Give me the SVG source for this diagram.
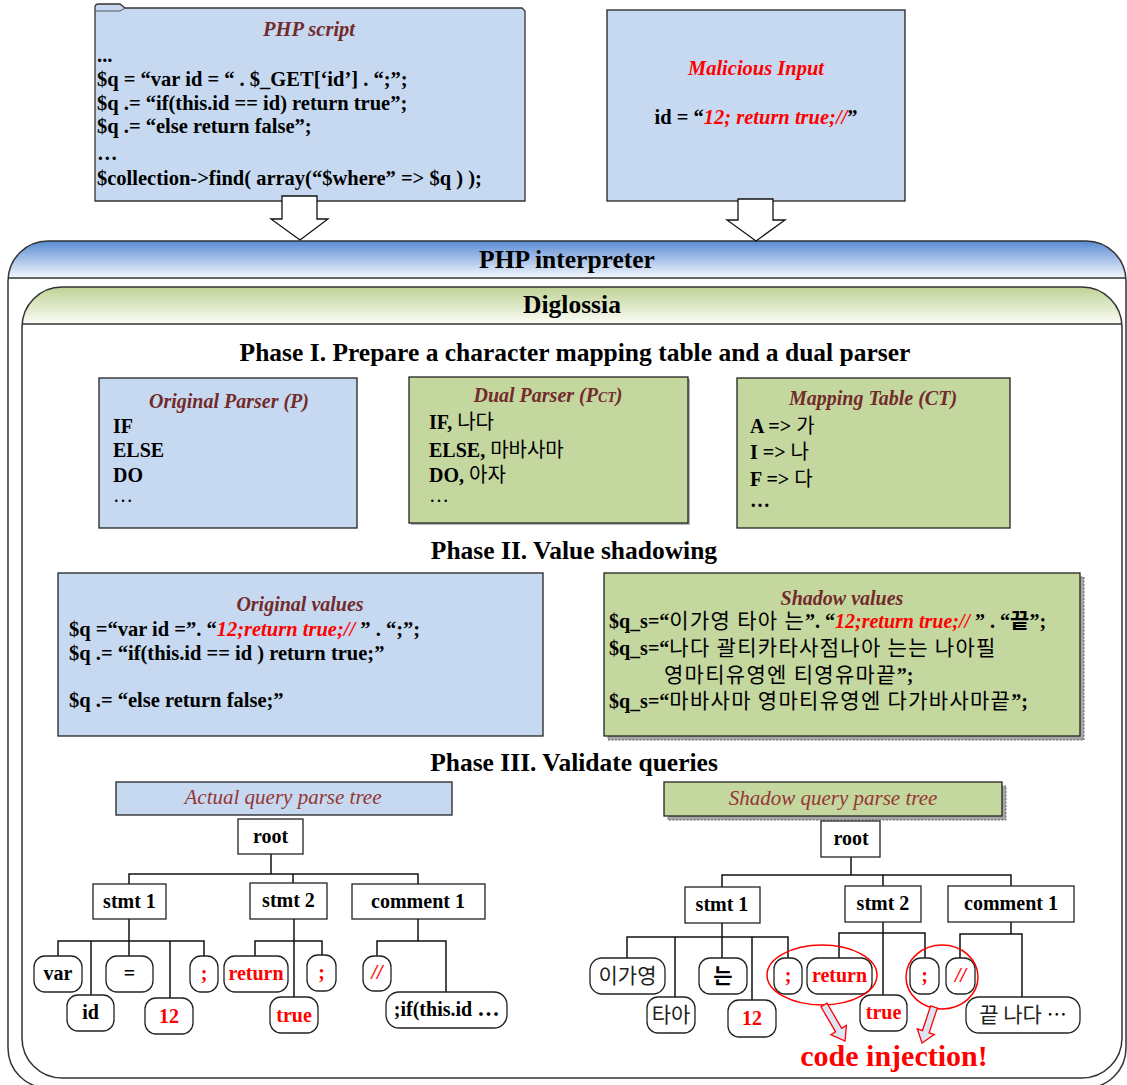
<svg xmlns="http://www.w3.org/2000/svg" width="1127" height="1085" viewBox="0 0 1127 1085">
<defs>
<linearGradient id="gBlue" x1="0" y1="0" x2="0" y2="1"><stop offset="0" stop-color="#5a8bd3"/><stop offset="1" stop-color="#f5f8fd"/></linearGradient>
<linearGradient id="gGreen" x1="0" y1="0" x2="0" y2="1"><stop offset="0" stop-color="#bfd396"/><stop offset="1" stop-color="#fbfcf6"/></linearGradient>
<clipPath id="cOuter"><rect x="8" y="241" width="1118" height="847" rx="40"/></clipPath>
<clipPath id="cInner"><rect x="22" y="287" width="1100" height="791" rx="40"/></clipPath>
</defs>
<style>
text { font-family: "Liberation Serif", "Times New Roman", "Noto Sans CJK KR", serif; font-weight: bold; fill: #000; font-size: 20px; }
.code { font-size: 20.5px; }
.h1 { font-size: 25.5px; }
.ttl { font-style: italic; fill: #722b2b; }
.tree { font-style: italic; font-weight: normal; fill: #943634; font-size: 21px; }
.red { fill: #ff0000; }
.it { font-style: italic; }
.ko { font-family: "Noto Sans CJK KR", sans-serif; font-weight: normal; }
.kw { font-size: 21px; letter-spacing: 1.3px; }
.kt { font-size: 21px; fill: #222; }
.nw { font-weight: normal; }
.mid { text-anchor: middle; }
.blue { fill: #c6d9f0; stroke: #222; stroke-width: 1.3; }
.green { fill: #c4d79f; stroke: #222; stroke-width: 1.3; }
.node { fill: #fff; stroke: #222; stroke-width: 1.3; }
.conn { stroke: #111; stroke-width: 1.5; fill: none; }
.cont { fill: none; stroke: #333; stroke-width: 1.5; }
.sh { fill: #a6a6a6; stroke: #666; stroke-width: 1; stroke-dasharray: 2 1.5; }
.ell { fill: none; stroke: #ff0000; stroke-width: 1.5; }
.harrow { fill: #dce6f2; stroke: #ff0000; stroke-width: 1.3; }
.barrow { fill: #fff; stroke: #111; stroke-width: 1.3; }
.big { font-size: 30px; }
</style>
<rect width="1127" height="1085" fill="#fff"/>

<g id="php-interpreter">
<rect x="8" y="241" width="1118" height="847" rx="40" fill="#fff"/>
<rect x="8" y="241" width="1118" height="37" fill="url(#gBlue)" clip-path="url(#cOuter)"/>
<line x1="8" y1="278" x2="1126" y2="278" stroke="#333" stroke-width="1.5"/>
<rect class="cont" x="8" y="241" width="1118" height="847" rx="40"/>
<text class="h1 mid" x="567" y="268">PHP interpreter</text>
</g>

<g id="diglossia">
<rect x="22" y="287" width="1100" height="791" rx="40" fill="#fff"/>
<rect x="22" y="287" width="1100" height="37" fill="url(#gGreen)" clip-path="url(#cInner)"/>
<line x1="22" y1="324" x2="1122" y2="324" stroke="#333" stroke-width="1.5"/>
<rect class="cont" x="22" y="287" width="1100" height="791" rx="40"/>
<text class="h1 mid" x="572" y="313">Diglossia</text>
</g>

<g id="php-script">
<path d="M95,201 V7 Q95,4 99,4 H120 L125,8 H522 L525,11 V201 Z" fill="#c6d9f0" stroke="#333" stroke-width="1.3"/>
<path d="M95,11 H120 L125,8" fill="none" stroke="#555" stroke-width="1"/>
<text class="code ttl mid" x="309" y="36">PHP script</text>
<text class="code" x="97" y="62">...</text>
<text class="code" x="97" y="86">$q = “var id = “ . $_GET[‘id’] . “;”;</text>
<text class="code" x="97" y="110">$q .= “if(this.id == id) return true”;</text>
<text class="code" x="97" y="133">$q .= “else return false”;</text>
<text class="code" x="97" y="160">…</text>
<text class="code" x="97" y="185">$collection-&gt;find( array(“$where” =&gt; $q ) );</text>
</g>

<g id="malicious-input">
<rect class="blue" x="607" y="10" width="298" height="191" stroke="#333"/>
<text class="code it red mid" x="756" y="75">Malicious Input</text>
<text class="code mid" x="756" y="124">id = “<tspan class="red it">12; return true;//</tspan>”</text>
</g>

<g id="phase-titles">
<text class="h1 mid" x="575" y="361">Phase I. Prepare a character mapping table and a dual parser</text>
<text class="h1 mid" x="574" y="559">Phase II. Value shadowing</text>
<text class="h1 mid" x="574" y="771">Phase III. Validate queries</text>
</g>

<g id="original-parser">
<rect class="blue" x="99" y="378" width="258" height="150"/>
<text class="ttl mid" x="229" y="408">Original Parser (P)</text>
<text x="113" y="433">IF</text>
<text x="113" y="457">ELSE</text>
<text x="113" y="482">DO</text>
<text class="nw" x="113" y="502">…</text>
</g>

<g id="dual-parser">
<rect x="411" y="379" width="279" height="146" fill="#b5b5b5"/>
<rect class="green" x="409" y="377" width="279" height="146" stroke="#555" stroke-width="1.8"/>
<text class="ttl mid" x="548" y="402">Dual Parser (P<tspan style="font-size:14px">CT</tspan>)</text>
<text x="429" y="429">IF, <tspan class="ko">나다</tspan></text>
<text x="429" y="457">ELSE, <tspan class="ko">마바사마</tspan></text>
<text x="429" y="482">DO, <tspan class="ko">아자</tspan></text>
<text class="nw" x="429" y="502">…</text>
</g>

<g id="mapping-table">
<rect class="green" x="737" y="378" width="273" height="150"/>
<text class="ttl mid" x="873" y="405">Mapping Table (CT)</text>
<text x="750" y="433">A =&gt; <tspan class="ko">가</tspan></text>
<text x="750" y="459">I =&gt; <tspan class="ko">나</tspan></text>
<text x="750" y="486">F =&gt; <tspan class="ko">다</tspan></text>
<text x="750" y="507">…</text>
</g>

<g id="original-values">
<rect class="blue" x="58" y="573" width="485" height="163"/>
<text class="ttl mid" x="300" y="611">Original values</text>
<text class="code" x="69" y="636">$q =“var id =”. “<tspan class="red it">12;return true;// </tspan>” . “;”;</text>
<text class="code" x="69" y="660">$q .= “if(this.id == id ) return true;”</text>
<text class="code" x="69" y="707">$q .= “else return false;”</text>
</g>

<g id="shadow-values">
<rect class="sh" x="608" y="577" width="476" height="163"/>
<rect class="green" x="604" y="573" width="476" height="163"/>
<text class="ttl mid" x="842" y="605">Shadow values</text>
<text x="609" y="628">$q_s=“<tspan class="ko kw">이가영 타아 는</tspan>”. “<tspan class="red it">12;return true;// </tspan>” . “<tspan class="ko" style="font-weight:bold;font-size:21px">끝</tspan>”;</text>
<text x="609" y="655">$q_s=“<tspan class="ko kw">나다 괄티카타사점나아 는는 나아필</tspan></text>
<text x="664" y="682"><tspan class="ko kw">영마티유영엔 티영유마끝</tspan>”;</text>
<text x="609" y="708">$q_s=“<tspan class="ko kw">마바사마 영마티유영엔 다가바사마끝</tspan>”;</text>
</g>

<g id="actual-tree-header">
<rect class="blue" x="116" y="782" width="336" height="33"/>
<text class="tree mid" x="283" y="804">Actual query parse tree</text>
</g>

<g id="shadow-tree-header">
<rect class="sh" x="668" y="786" width="338" height="34"/>
<rect class="green" x="664" y="782" width="338" height="34"/>
<text class="tree mid" x="833" y="805">Shadow query parse tree</text>
</g>

<g id="connectors">
<polygon class="barrow" points="282,196 317,196 317,219 328,219 300,240 271,219 282,219"/>
<polygon class="barrow" points="738,199 773,199 773,220 785,220 756,241 727,220 738,220"/>
<path class="conn" d="M271,854 V874" stroke-width="2.2"/>
<path class="conn" d="M129,884 V874 H418 V884 M293,874 V883"/>
<path class="conn" d="M129,919 V941" stroke-width="2"/>
<path class="conn" d="M58,956 V941 H204 V956 M91,941 V995 M129,941 V956 M170,941 V998"/>
<path class="conn" d="M294,919 V997" stroke-width="2"/>
<path class="conn" d="M255,956 V941 H322 V955"/>
<path class="conn" d="M418,919 V941 M377,956 V941 H446 V992"/>
<path class="conn" d="M851,857 V875" stroke-width="2.2"/>
<path class="conn" d="M722,887 V875 H1011 V886 M883,875 V886"/>
<path class="conn" d="M722,923 V937" stroke-width="2"/>
<path class="conn" d="M627,958 V937 H788 V958 M675,937 V997 M722,937 V958 M752,937 V1000"/>
<path class="conn" d="M883,922 V995" stroke-width="1.8"/>
<path class="conn" d="M839,958 V933 H925 V958"/>
<path class="conn" d="M1011,922 V934 M960,958 V934 H1022 V997"/>
</g>

<g id="actual-tree-nodes">
<g id="a-root"><rect class="node" x="238" y="819" width="65" height="35"/><text class="mid" x="270.5" y="843">root</text></g>
<g id="a-stmt1"><rect class="node" x="93" y="884" width="73" height="35"/><text class="mid" x="129.5" y="908">stmt 1</text></g>
<g id="a-stmt2"><rect class="node" x="250" y="883" width="77" height="36"/><text class="mid" x="288.5" y="907">stmt 2</text></g>
<g id="a-comment1"><rect class="node" x="352" y="884" width="133" height="35"/><text class="mid" x="418" y="908">comment 1</text></g>
<g id="a-var"><rect class="node" x="34" y="956" width="48" height="36" rx="11"/><text class="mid" x="58" y="980">var</text></g>
<g id="a-id"><rect class="node" x="67" y="995" width="47" height="36" rx="11"/><text class="mid" x="90.5" y="1019">id</text></g>
<g id="a-eq"><rect class="node" x="106" y="956" width="47" height="36" rx="11"/><text class="mid" x="129.5" y="980">=</text></g>
<g id="a-12"><rect class="node" x="145" y="998" width="48" height="36" rx="11"/><text class="mid red" x="169" y="1023">12</text></g>
<g id="a-semi1"><rect class="node" x="190" y="956" width="28" height="36" rx="11"/><text class="mid red" x="204" y="980">;</text></g>
<g id="a-return"><rect class="node" x="224" y="956" width="64" height="36" rx="11"/><text class="mid red" x="256" y="980">return</text></g>
<g id="a-true"><rect class="node" x="270" y="997" width="48" height="36" rx="11"/><text class="mid red" x="294" y="1022">true</text></g>
<g id="a-semi2"><rect class="node" x="307" y="955" width="29" height="36" rx="11"/><text class="mid red" x="321.5" y="979">;</text></g>
<g id="a-comment"><rect class="node" x="363" y="956" width="28" height="35" rx="11"/><text class="mid red it" x="377" y="979">//</text></g>
<g id="a-rest"><rect class="node" x="386" y="992" width="121" height="36" rx="13"/><text class="mid" x="446.5" y="1016">;if(this.id ⋯</text></g>
</g>

<g id="shadow-tree-nodes">
<g id="s-root"><rect class="node" x="821" y="821" width="59" height="36"/><text class="mid" x="851" y="845">root</text></g>
<g id="s-stmt1"><rect class="node" x="685" y="887" width="75" height="36"/><text class="mid" x="722" y="911">stmt 1</text></g>
<g id="s-stmt2"><rect class="node" x="845" y="886" width="76" height="36"/><text class="mid" x="883" y="910">stmt 2</text></g>
<g id="s-comment1"><rect class="node" x="948" y="886" width="126" height="36"/><text class="mid" x="1011" y="910">comment 1</text></g>
<g id="s-igy"><rect class="node" x="590" y="958" width="75" height="36" rx="12"/><text class="mid ko kt" x="627.5" y="983">이가영</text></g>
<g id="s-ta"><rect class="node" x="647" y="997" width="48" height="36" rx="11"/><text class="mid ko kt" x="671" y="1022">타아</text></g>
<g id="s-neun"><rect class="node" x="699" y="958" width="48" height="36" rx="11"/><text class="mid ko" x="723" y="983" style="font-size:21px;font-weight:bold">는</text></g>
<g id="s-12"><rect class="node" x="728" y="1000" width="48" height="37" rx="11"/><text class="mid red" x="752" y="1025">12</text></g>
<g id="s-semi1"><rect class="node" x="774" y="958" width="28" height="36" rx="11"/><text class="mid red" x="788" y="982">;</text></g>
<g id="s-return"><rect class="node" x="807" y="958" width="65" height="36" rx="11"/><text class="mid red" x="839.5" y="982">return</text></g>
<g id="s-true"><rect class="node" x="860" y="995" width="47" height="36" rx="11"/><text class="mid red" x="883.5" y="1019">true</text></g>
<g id="s-semi2"><rect class="node" x="910" y="958" width="29" height="36" rx="11"/><text class="mid red" x="924.5" y="982">;</text></g>
<g id="s-comment"><rect class="node" x="946" y="958" width="29" height="36" rx="11"/><text class="mid red it" x="960.5" y="982">//</text></g>
<g id="s-rest"><rect class="node" x="966" y="997" width="114" height="36" rx="13"/><text class="mid" x="1023" y="1022"><tspan class="ko kt">끝 나다</tspan><tspan class="nw"> ⋯</tspan></text></g>
</g>

<g id="code-injection">
<ellipse class="ell" cx="822" cy="975" rx="55" ry="30"/>
<ellipse class="ell" cx="942" cy="977" rx="36" ry="32"/>
<polygon class="harrow" transform="translate(824,1005) rotate(-30.3)" points="-3.5,0 3.5,0 3.5,29 9,29 0,41.7 -9,29 -3.5,29"/>
<polygon class="harrow" transform="translate(934,1007) rotate(18.4)" points="-3.5,0 3.5,0 3.5,26 9,26 0,37.9 -9,26 -3.5,26"/>
<text class="red mid big" x="894" y="1066">code injection!</text>
</g>
</svg>
